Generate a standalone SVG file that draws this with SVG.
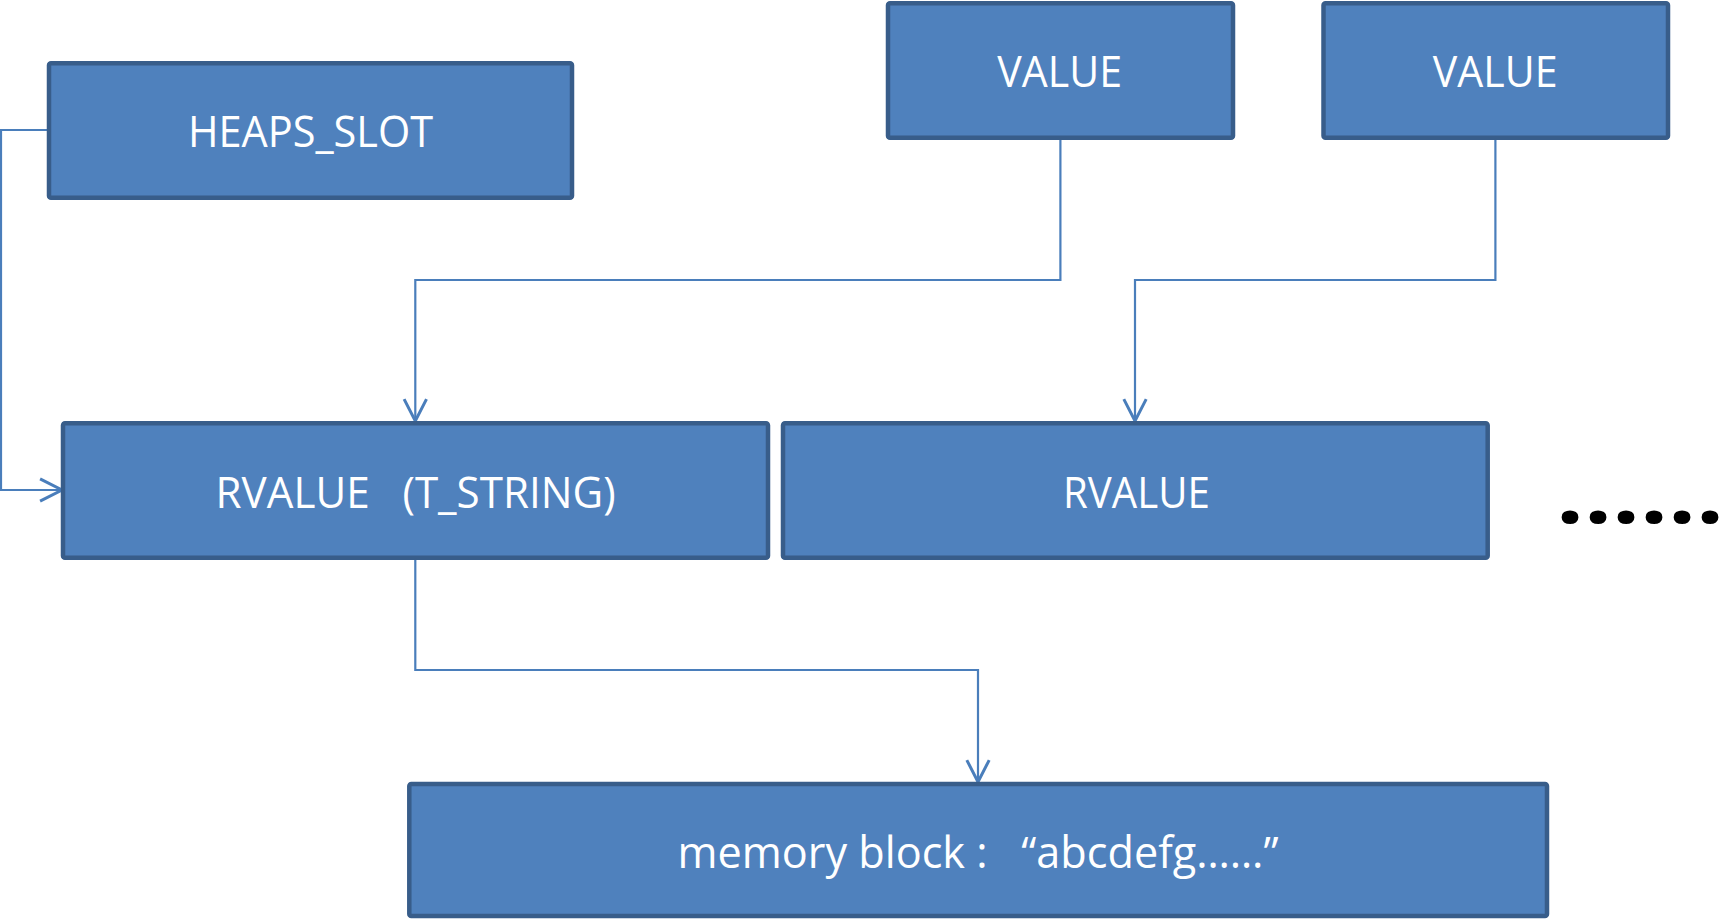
<svg xmlns="http://www.w3.org/2000/svg" width="1721" height="920" viewBox="0 0 1721 920">
  <style>
    .box { fill: #4F81BD; stroke: #385D8A; stroke-width: 4.5; }
    .lbl { fill: #FFFFFF; font-family: "Open Sans", "Noto Sans", "Liberation Sans", "Noto Sans CJK SC", sans-serif; font-size: 43px; white-space: pre; }
    .conn { fill: none; stroke: #4A7EBB; stroke-width: 2.2; }
    .dots { fill: #000000; font-family: "Open Sans", "Noto Sans", sans-serif; font-weight: bold; font-size: 80px; }
  </style>
  <defs>
    <marker id="arrow" markerUnits="userSpaceOnUse" markerWidth="30" markerHeight="30" viewBox="-22 -12 26 24" refX="0" refY="0" orient="auto">
      <path d="M-19,-9.7 L0,0 L-19,9.7" fill="none" stroke="#4A7EBB" stroke-width="2.6"/>
    </marker>
  </defs>
  <rect width="1721" height="920" fill="#FFFFFF"/>

  <g id="connectors">
    <path class="conn" d="M47,130 H1 V490 H62" marker-end="url(#arrow)"/>
    <path class="conn" d="M1060.4,140 V280 H415.3 V421" marker-end="url(#arrow)"/>
    <path class="conn" d="M1495.4,140 V280 H1135 V421" marker-end="url(#arrow)"/>
    <path class="conn" d="M415.3,560 V670 H978 V782" marker-end="url(#arrow)"/>
  </g>

  <g id="heaps_slot">
    <rect class="box" x="49" y="63.3" width="523" height="134.5" rx="2"/>
    <text class="lbl" x="188" y="146.7" textLength="245" lengthAdjust="spacingAndGlyphs">HEAPS_SLOT</text>
  </g>
  <g id="value1">
    <rect class="box" x="888" y="3.3" width="345" height="134.5" rx="2"/>
    <text class="lbl" x="997.3" y="87.3" textLength="124.7" lengthAdjust="spacingAndGlyphs">VALUE</text>
  </g>
  <g id="value2">
    <rect class="box" x="1323.5" y="3.3" width="344.5" height="134.5" rx="2"/>
    <text class="lbl" x="1432.8" y="87.3" textLength="124.7" lengthAdjust="spacingAndGlyphs">VALUE</text>
  </g>
  <g id="rvalue_tstring">
    <rect class="box" x="63" y="423.2" width="705" height="134.6" rx="2"/>
    <text class="lbl" x="215.6" y="507.7" textLength="400" lengthAdjust="spacingAndGlyphs">RVALUE   (T_STRING)</text>
  </g>
  <g id="rvalue">
    <rect class="box" x="783" y="423.2" width="704.7" height="134.6" rx="2"/>
    <text class="lbl" x="1063" y="507.7" textLength="146.8" lengthAdjust="spacingAndGlyphs">RVALUE</text>
  </g>
  <g id="memory_block">
    <rect class="box" x="409.3" y="784" width="1137.7" height="132" rx="2"/>
    <text class="lbl" x="677.5" y="868.3" textLength="601" lengthAdjust="spacingAndGlyphs">memory block :   “abcdefg……”</text>
  </g>
  <g id="ellipsis">
    <text class="dots" x="1556" y="522.7" textLength="168" lengthAdjust="spacingAndGlyphs">……</text>
  </g>
</svg>
